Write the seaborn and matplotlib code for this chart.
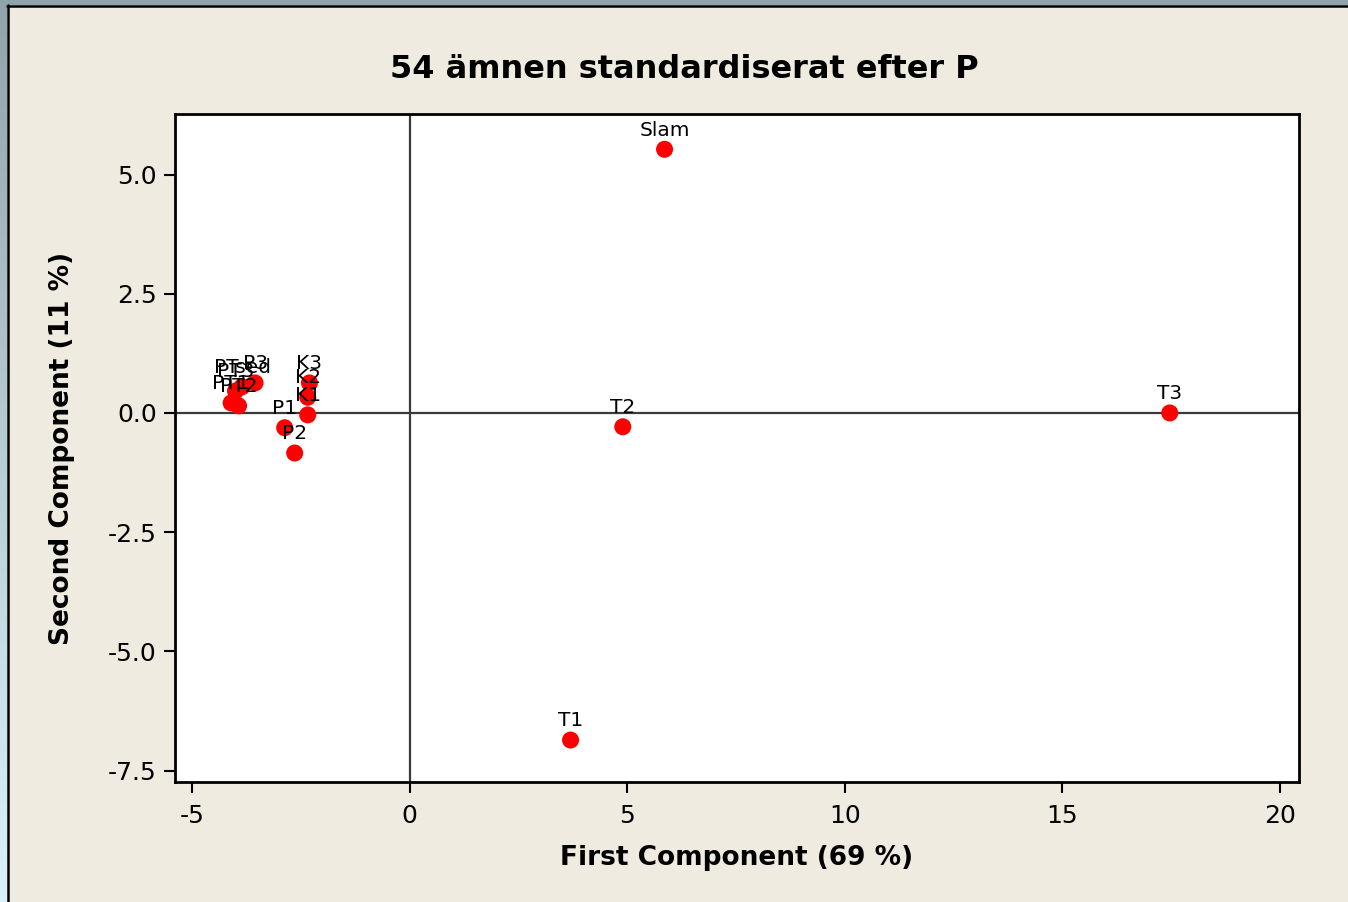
import matplotlib
matplotlib.use("Agg")
import matplotlib.pyplot as plt
import seaborn as sns
import numpy as np
import pandas as pd
from matplotlib.patches import Rectangle
from matplotlib.colors import LinearSegmentedColormap

# ---- data ----
labels = ["Slam", "T1", "T2", "T3", "K1", "K2", "K3", "P1", "P2", "P3",
          "PT1", "PT2", "PT3", "PTsed"]
first = [5.86, 3.70, 4.90, 17.47, -2.34, -2.34, -2.30, -2.87, -2.64, -3.55,
         -4.10, -3.93, -4.00, -3.85]
second = [5.53, -6.86, -0.29, 0.00, -0.04, 0.33, 0.63, -0.31, -0.84, 0.63,
          0.21, 0.15, 0.46, 0.55]
xticks = [-5, 0, 5, 10, 15, 20]
yticks = [-7.5, -5.0, -2.5, 0.0, 2.5, 5.0]
ytick_labels = ["-7.5", "-5.0", "-2.5", "0.0", "2.5", "5.0"]
title = "54 ämnen standardiserat efter P"
xlabel = "First Component (69 %)"
ylabel = "Second Component (11 %)"

df = pd.DataFrame({"label": labels, "PC1": first, "PC2": second})

sns.set_theme(style="white")
plt.rcParams["font.family"] = ["DejaVu Sans"]
plt.rcParams["text.color"] = "black"
plt.rcParams["axes.labelcolor"] = "black"

bg = "#efebe1"
fig = plt.figure(figsize=(13.48, 9.02), dpi=100, facecolor=bg)

# outer window frame
W, H = 1348, 902
frame = fig.add_axes([0, 0, 1, 1], zorder=-5)
frame.set_xlim(0, W)
frame.set_ylim(H, 0)
frame.axis("off")
grad = np.linspace(0, 1, 256).reshape(-1, 1)
cm = LinearSegmentedColormap.from_list("edge", ["#8fa3ab", "#b7cdd5", "#d8f2fc"])
frame.imshow(grad, cmap=cm, extent=[0, 7, H, 0], aspect="auto")
frame.add_patch(Rectangle((0, 0), W, 5, color="#8fa3ab", lw=0))
frame.plot([7.5, 7.5], [5, H], color="black", lw=1.8)
frame.plot([7, W], [5.5, 5.5], color="black", lw=1.8)

ax = fig.add_axes([175 / W, 1 - 782 / H, (1299 - 175) / W, (782 - 114) / H])
ax.set_facecolor("white")

ax.axhline(0, color="#3a3a3a", lw=1.6, zorder=1)
ax.axvline(0, color="#3a3a3a", lw=1.6, zorder=1)

sns.scatterplot(data=df, x="PC1", y="PC2", ax=ax, color="#ff0000",
                s=150, edgecolor="none", zorder=3, legend=False)

for lab, x, y in zip(labels, first, second):
    ax.annotate(lab, (x, y), xytext=(0, 7), textcoords="offset points",
                ha="center", va="bottom", fontsize=14.5, color="black", zorder=4)

ax.set_xlim(-5.39, 20.44)
ax.set_ylim(-7.74, 6.27)
ax.set_xticks(xticks)
ax.set_xticklabels([str(t) for t in xticks])
ax.set_yticks(yticks)
ax.set_yticklabels(ytick_labels)
ax.tick_params(axis="both", direction="out", length=8, width=1.5,
               labelsize=18, color="black", labelcolor="black",
               bottom=True, left=True)
ax.tick_params(axis="x", pad=8)
ax.tick_params(axis="y", pad=5)
for sp in ax.spines.values():
    sp.set_color("black")
    sp.set_linewidth(2)

ax.set_xlabel(xlabel, fontsize=19, fontweight="bold", labelpad=12, color="black")
ax.set_ylabel(ylabel, fontsize=19, fontweight="bold", labelpad=24, color="black")
fig.text(684 / W, 1 - 70 / H, title, fontsize=23, fontweight="bold",
         ha="center", va="center", color="black")

fig.savefig("out.png", dpi=100, facecolor=bg)
